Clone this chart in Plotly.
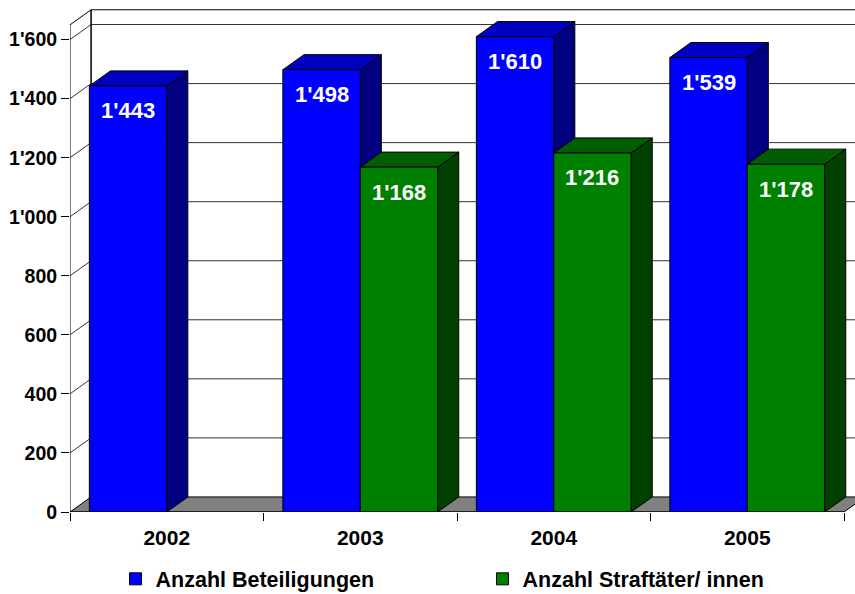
import plotly.graph_objects as go

# --- data ---
YEARS = ["2002", "2003", "2004", "2005"]
BETEILIGUNGEN = [1443, 1498, 1610, 1539]
STRAFTAETER = [None, 1168, 1216, 1178]
Y_TICKS = [0, 200, 400, 600, 800, 1000, 1200, 1400, 1600]
SERIES_NAMES = ["Anzahl Beteiligungen", "Anzahl Straftäter/ innen"]

# --- styling / pseudo-3D geometry ---
FRONT = ["#0000FF", "#008000"]
TOP = ["#0000C0", "#005E00"]
SIDE = ["#000080", "#004000"]
BAR_W = 0.4
DX = 0.109      # depth offset in category units
DY = 51         # depth offset in value units
WALL_TOP = 1650
X0, X1 = -0.5, len(YEARS) - 0.5
FONT = "Liberation Sans, Arial, sans-serif"

fig = go.Figure()
series = [BETEILIGUNGEN, STRAFTAETER]
offsets = [-BAR_W, 0.0]
for k, vals in enumerate(series):
    fig.add_trace(go.Bar(
        x=list(range(len(YEARS))), y=vals, name=f"<b>{SERIES_NAMES[k]}</b>",
        width=BAR_W, offset=offsets[k],
        marker=dict(color=FRONT[k], line=dict(color="black", width=1)),
        hoverinfo="skip",
    ))

shapes = []


def poly(pts, fill, lw=1, color="black", layer="below"):
    d = "M " + " L ".join(f"{x},{y}" for x, y in pts) + " Z"
    return dict(type="path", path=d, xref="x", yref="y", fillcolor=fill,
                line=dict(color=color, width=lw), layer=layer)


def seg(xa, ya, xb, yb, color="black", lw=1, layer="below"):
    return dict(type="line", x0=xa, y0=ya, x1=xb, y1=yb, xref="x", yref="y",
                line=dict(color=color, width=lw), layer=layer)


# back wall and side wall
for g in Y_TICKS[1:]:
    shapes.append(seg(X0 + DX, g + DY, X1 + DX, g + DY, color="#333333"))
    shapes.append(seg(X0, g, X0 + DX, g + DY, color="#333333"))
shapes.append(seg(X0 + DX, WALL_TOP + DY, X1 + DX, WALL_TOP + DY))
shapes.append(seg(X0, WALL_TOP, X0 + DX, WALL_TOP + DY))
shapes.append(seg(X0 + DX, DY, X0 + DX, WALL_TOP + DY, lw=1.5))

# floor
shapes.append(poly([(X0, 0), (X1, 0), (X1 + DX, DY), (X0 + DX, DY)], "#808080"))

# top and side faces, left to right so nearer faces cover farther ones
for i in range(len(YEARS)):
    for k, vals in enumerate(series):
        v = vals[i]
        if v is None:
            continue
        xa = i + offsets[k]
        xb = xa + BAR_W
        shapes.append(poly([(xb, 0), (xb + DX, DY), (xb + DX, v + DY), (xb, v)], SIDE[k]))
        shapes.append(poly([(xa, v), (xb, v), (xb + DX, v + DY), (xa + DX, v + DY)], TOP[k]))

# front axis lines
shapes.append(seg(X0, 0, X0, WALL_TOP, layer="above"))
shapes.append(seg(X0, 0, X1, 0, layer="above"))

# value labels inside the bars
annotations = []
for k, vals in enumerate(series):
    for i, v in enumerate(vals):
        if v is None:
            continue
        annotations.append(dict(
            x=i + offsets[k] + BAR_W / 2, y=v, xref="x", yref="y",
            text=f"<b>{v:,}</b>".replace(",", "'"), showarrow=False,
            yanchor="middle", yshift=-25,
            font=dict(family=FONT, size=22, color="white"),
        ))

fig.update_layout(
    width=855, height=594,
    margin=dict(l=70, r=0, t=8, b=82, autoexpand=False),
    paper_bgcolor="white", plot_bgcolor="white",
    barmode="overlay",
    separators=".'",
    shapes=shapes, annotations=annotations,
    showlegend=True,
    legend=dict(
        orientation="h", x=0.058, xanchor="left", xref="paper",
        y=-0.092, yanchor="top",
        font=dict(family=FONT, size=21.5, color="black"),
        entrywidth=322, itemwidth=30, traceorder="normal",
    ),
    xaxis=dict(
        range=[X0, X0 + 785 / 193.5], tickvals=list(range(len(YEARS))), ticktext=YEARS,
        ticks="", showgrid=False, zeroline=False, showline=False,
        ticklabelstandoff=11, automargin=False,
        tickfont=dict(family=FONT, size=21, color="black", weight="bold"),
        minor=dict(tickmode="array", tickvals=[X0 + j for j in range(len(YEARS) + 1)],
                   ticks="outside", ticklen=8, tickcolor="black", tickwidth=1, showgrid=False),
    ),
    yaxis=dict(
        range=[0, 1707], tickvals=Y_TICKS, tickformat=",",
        ticks="outside", ticklen=8, tickcolor="black", tickwidth=1,
        showgrid=False, zeroline=False, showline=False, automargin=False,
        tickfont=dict(family=FONT, size=19.5, color="black", weight="bold"),
    ),
)

fig.write_html("out.html")
